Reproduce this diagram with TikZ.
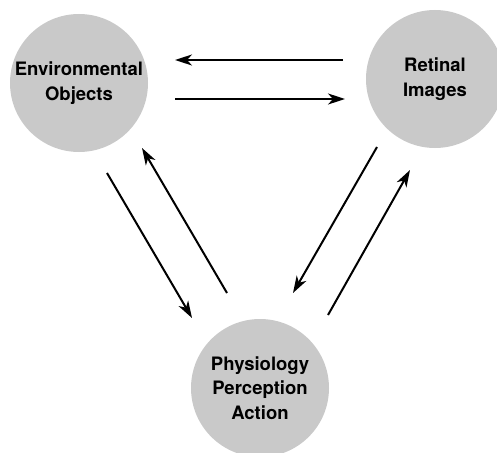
\documentclass[tikz,border=0pt]{standalone}
\usepackage{fontspec}
\setmainfont{TeX Gyre Heros}
\usetikzlibrary{arrows.meta}
\definecolor{blobgray}{RGB}{201,201,201}
\tikzset{blob/.style={circle, fill=blobgray, minimum size=138pt, inner sep=0pt, align=center,
    font=\fontsize{18.5}{24.5}\selectfont\bfseries}}
\tikzset{link/.style={line width=2pt, -{Stealth[length=17pt,width=11pt,inset=5pt]}}}

\begin{document}
\begin{tikzpicture}[x=1pt,y=-1pt]
  \useasboundingbox (0,0) rectangle (497,452);
  \clip (0,0) rectangle (497,452);
  % Circles
  \node[blob] (env) at (79,83) {Environmental\\Objects};
  \node[blob] (ret) at (435,79) {Retinal\\Images};
  \node[blob] (phy) at (260,388) {Physiology\\Perception\\Action};

  % Arrow ends
  \coordinate (topR) at (343,60);
  \coordinate (topL) at (175,60);
  \coordinate (botL) at (175,99);
  \coordinate (botR) at (345,99);
  \coordinate (ldS) at (107,173);
  \coordinate (ldE) at (192,318);
  \coordinate (luS) at (227,293);
  \coordinate (luE) at (142,148);
  \coordinate (rdS) at (377,147);
  \coordinate (rdE) at (293,293);
  \coordinate (ruS) at (328,315);
  \coordinate (ruE) at (410,170);

  % Arrows
  \draw[link] (topR) -- (topL);
  \draw[link] (botL) -- (botR);
  \draw[link] (ldS) -- (ldE);
  \draw[link] (luS) -- (luE);
  \draw[link] (rdS) -- (rdE);
  \draw[link] (ruS) -- (ruE);
\end{tikzpicture}
\end{document}
